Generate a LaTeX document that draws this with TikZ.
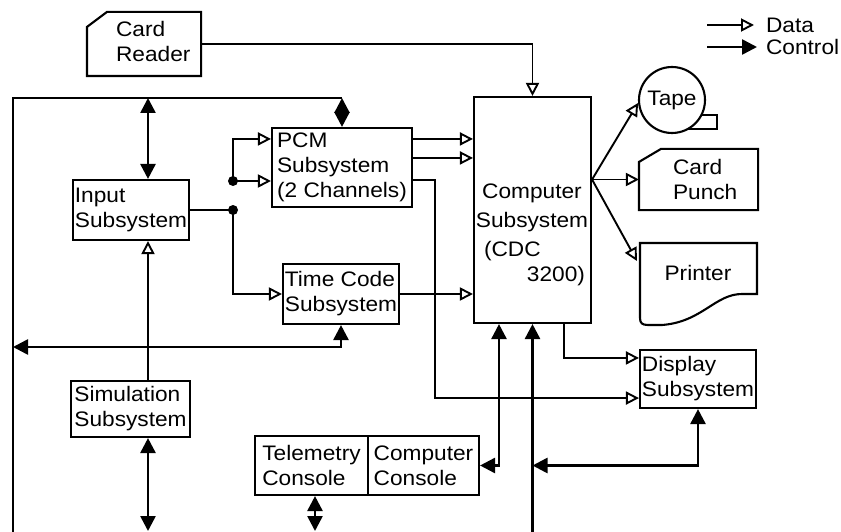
\documentclass[tikz,border=0pt]{standalone}
\usepackage{fontspec}
\setmainfont{Liberation Sans}[FakeStretch=1.08]
\usetikzlibrary{arrows.meta,calc}
\begin{document}
\begin{tikzpicture}[x=1pt,y=-1pt,
  line width=2.1pt,
  every node/.style={font=\fontsize{21}{25}\selectfont},
  dline/.style={line width=1.9pt},
  cline/.style={line width=2.6pt},
  data/.style={dline, -{Triangle[open,length=13pt,width=13pt,line width=1.9pt]}},
  ctl/.style={cline, -{Triangle[length=15pt,width=15pt]}},
  ctl2/.style={cline, {Triangle[length=15pt,width=15pt]}-{Triangle[length=15pt,width=15pt]}},
  blk/.style={draw, rectangle, inner sep=0pt, align=left},
  txt/.style={inner sep=0pt},
]
\useasboundingbox (0,0) rectangle (841,532);

% ---- boxes ----
\node[blk, minimum width=116, minimum height=60] (inp) at (131,210) {Input\\Subsystem};
\node[blk, minimum width=140, minimum height=79] (pcm) at (342,167.5) {PCM\\Subsystem\\(2 Channels)};
\node[blk, minimum width=116, minimum height=60] (tc) at (341,294) {Time Code\\Subsystem};
\node[blk, minimum width=119, minimum height=56] (sim) at (130.5,409) {Simulation\\Subsystem};
\node[blk, minimum width=113, minimum height=59] (tel) at (311.5,465.5) {Telemetry\\Console};
\node[blk, minimum width=111, minimum height=59] (cc) at (423.5,465.5) {Computer\\Console};
\node[blk, minimum width=116, minimum height=58] (disp) at (698,379) {Display\\Subsystem};
\node[draw, rectangle, minimum width=117, minimum height=226, inner sep=0] (comp) at (532.5,210) {};
\node[txt, anchor=base] (ct1) at (532,198) {Computer};
\node[txt, anchor=base] (ct2) at (532,227) {Subsystem};
\node[txt, anchor=base west] (ct3) at (483,256) {(CDC};
\node[txt, anchor=base east] (ct4) at (586,281) {3200)};

% Card Reader
\node[minimum width=112, minimum height=62, inner sep=0] (cr) at (144,44) {};
\draw (cr.south west) -- ($(cr.north west)+(0,15)$) -- ($(cr.north west)+(20,0)$) -- (cr.north east) -- (cr.south east) -- cycle;
\node[txt, anchor=base west] (crt1) at (115,37) {Card};
\node[txt, anchor=base west] (crt2) at (115,62) {Reader};

% Card Punch
\node[minimum width=117, minimum height=59, inner sep=0] (cp) at (698.5,179.5) {};
\draw (cp.south west) -- ($(cp.north west)+(0,13)$) -- ($(cp.north west)+(22,0)$) -- (cp.north east) -- (cp.south east) -- cycle;
\node[txt, anchor=base west] (cpt1) at (672,175) {Card};
\node[txt, anchor=base west] (cpt2) at (672,200) {Punch};

% Tape
\node[draw, circle, minimum size=66, inner sep=0] (tape) at (672,100) {Tape};
\draw ($(tape.center)+(29,15)$) -- ($(tape.center)+(45,15)$) -- ($(tape.center)+(45,29)$) -- ($(tape.center)+(16,29)$);

% Printer
\node[minimum width=117, minimum height=82, inner sep=0] (prn) at (698.5,284) {};
\draw (640,243) -- (757,243) -- (757,294) -- (742,294) .. controls (715,294) and (702,322) .. (662,325) -- (648,325) .. controls (642,325) and (640,323) .. (640,318) -- cycle;
\node[txt, anchor=base] (prt) at (698,280) {Printer};

% Legend
\node[txt, anchor=base west] (ld) at (765,33) {Data};
\node[txt, anchor=base west] (lc) at (765,55) {Control};
\coordinate (ld1) at (707,25); \coordinate (ld2) at (754,25);
\coordinate (lc1) at (707,47); \coordinate (lc2) at (757,47);
\draw[data] (ld1) -- (ld2);
\draw[ctl] (lc1) -- (lc2);

% ---- coordinates ----
\coordinate (tl) at (13,98);
\coordinate (bl) at (13,532);
\coordinate (b347) at (13,347);
\coordinate (ax) at (148,0);
\coordinate (j1) at (233,210);
\coordinate (j2) at (233,181);
\coordinate (bot) at (0,531);
\coordinate (tx) at (315,0);
\coordinate (cx1) at (499,0);
\coordinate (cx3) at (564,0);
\coordinate (pb) at (435,0);
\coordinate (po1) at ($(pcm.north east)+(0,12)$);
\coordinate (po2) at ($(pcm.north east)+(0,31)$);
\coordinate (po3) at ($(pcm.north east)+(0,53)$);
\coordinate (d1) at ($(disp.north west)+(0,9)$);
\coordinate (d2) at ($(disp.south west)+(0,-11)$);
\coordinate (fan) at (comp.east |- cp.west);

% ---- connectors ----
\draw[cline] (bl) -- (tl) -- (pcm.north |- tl);
\draw[ctl2] (inp.north -| ax) -- (ax |- tl);
\draw[ctl2] (pcm.north) -- (pcm.north |- tl);
\draw[dline] (inp.east) -- (j1);
\draw[data] (j2) |- ($(pcm.north west)+(0,12)$);
\draw[data] (j2) -- (pcm.west |- j2);
\draw[data] (j1) |- (tc.west);
\fill (j1) circle (5);
\fill (j2) circle (5);
\draw[data] (po1) -- (comp.west |- po1);
\draw[data] (po2) -- (comp.west |- po2);
\draw[data] (po3) -| (pb |- d2) -- (d2);
\draw[data] (tc.east) -- (comp.west |- tc.east);
\draw[ctl2] (b347) -| (tc.south);
\draw[data] (sim.north -| ax) -- (inp.south -| ax);
\draw[ctl2] (sim.south -| ax) -- (ax |- bot);
\draw[ctl2] (tel.south -| tx) -- (tx |- bot);
\draw[ctl2] (cc.east) -| (comp.south -| cx1);
\draw[ctl] (comp.south |- bl) -- (comp.south);
\draw[ctl2] (comp.south |- cc.east) -| (disp.south);
\draw[data] (comp.south -| cx3) |- (d1);
\draw[data] (fan) -- (tape.185);
\draw[data] (fan) -- (cp.west |- fan);
\draw[data] (fan) -- ($(prn.north west)+(-2,19)$);
\draw[data] (cr.east) -| (comp.north);
\end{tikzpicture}
\end{document}
